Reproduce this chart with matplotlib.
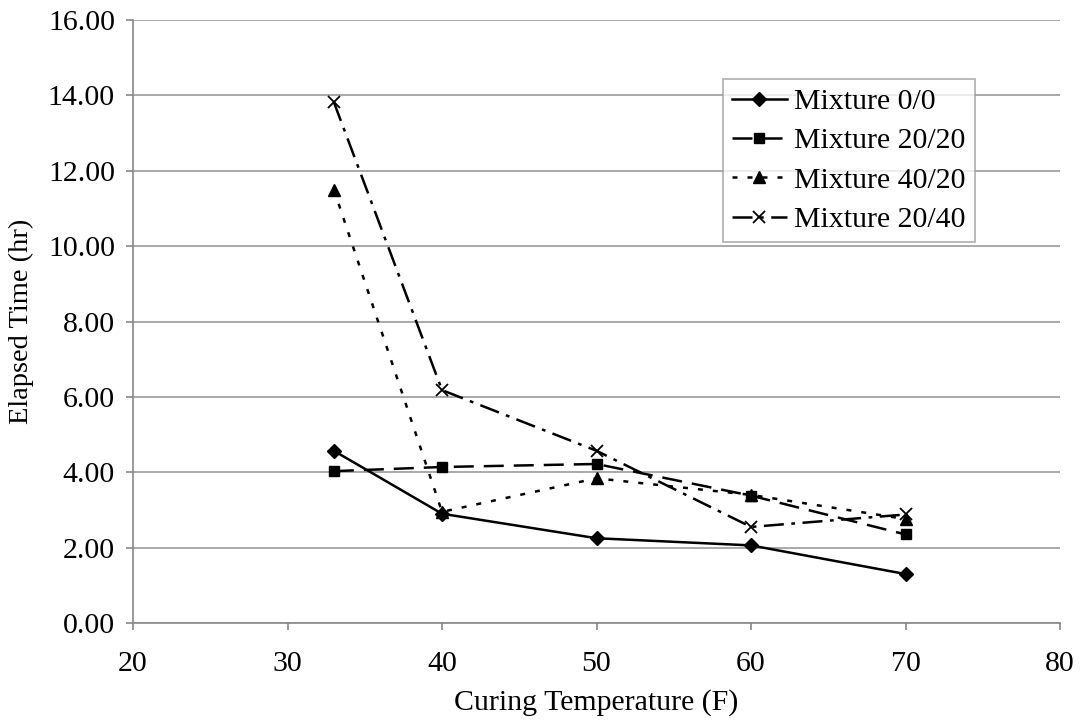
import matplotlib.pyplot as plt

# ============================================
# Data
# ============================================

temperature = [33, 40, 50, 60, 70]

mix_0_0 = [4.57, 2.90, 2.25, 2.06, 1.30]
mix_20_20 = [4.03, 4.14, 4.22, 3.38, 2.35]
mix_40_20 = [11.50, 2.95, 3.84, 3.40, 2.76]
mix_20_40 = [13.82, 6.18, 4.57, 2.55, 2.88]

labels = ["Mixture 0/0", "Mixture 20/20", "Mixture 40/20", "Mixture 20/40"]

x_ticks = [20, 30, 40, 50, 60, 70, 80]
y_ticks = [0, 2, 4, 6, 8, 10, 12, 14, 16]


# ============================================
# Plot
# ============================================

plt.rcParams["font.family"] = ["Liberation Serif", "DejaVu Serif"]

fig = plt.figure(figsize=(10.83, 7.27), dpi=100)
ax = fig.add_axes([0.1228, 0.143, 0.856, 0.8295])

lw = 1.8

ax.plot(temperature, mix_0_0, color="black", lw=lw, linestyle="-",
        marker="D", markersize=7, label=labels[0])
ax.plot(temperature, mix_20_20, color="black", lw=lw, linestyle=(0, (8, 4)),
        marker="s", markersize=7, label=labels[1])
ax.plot(temperature, mix_40_20, color="black", lw=lw, linestyle=(0, (2, 4)),
        marker="^", markersize=8, label=labels[2])
ax.plot(temperature, mix_20_40, color="black", lw=lw, linestyle=(0, (8, 3, 1.5, 3)),
        marker="x", markersize=9, markeredgewidth=1.3, label=labels[3])

ax.set_xlim(20, 80)
ax.set_ylim(0, 16)
ax.set_xticks(x_ticks)
ax.set_yticks(y_ticks)
ax.set_yticklabels([f"{v:.2f}" for v in y_ticks])

ax.grid(axis="y", color="#999999", lw=1.2)
ax.set_axisbelow(True)

for side in ["top", "right"]:
    ax.spines[side].set_visible(False)
for side in ["left", "bottom"]:
    ax.spines[side].set_color("#888888")
    ax.spines[side].set_linewidth(1.2)

ax.tick_params(axis="both", labelsize=21.5, color="#888888", length=5, width=1.2)
ax.tick_params(axis="y", pad=8)
ax.tick_params(axis="x", pad=15)

ax.set_xlabel("Curing Temperature (F)", fontsize=21.5, labelpad=9)
ax.set_ylabel("Elapsed Time (hr)", fontsize=20.5, labelpad=10)

leg = ax.legend(loc="upper right", bbox_to_anchor=(0.908, 0.902), fontsize=21.5,
                frameon=True, fancybox=False, edgecolor="#999999",
                handlelength=1.85, handletextpad=0.25, labelspacing=0.42,
                borderpad=0.3, borderaxespad=0)
leg.get_frame().set_linewidth(1.2)

plt.savefig("out.png")
plt.close()
